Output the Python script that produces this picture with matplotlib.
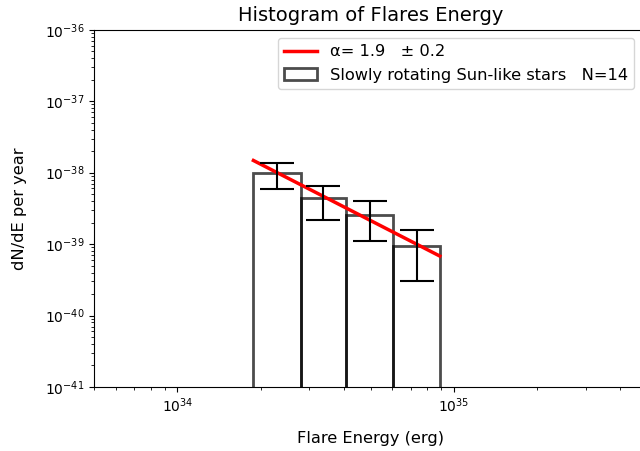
import numpy as np
import matplotlib
matplotlib.use('Agg')
import matplotlib.pyplot as plt

# bin edges (erg) and dN/dE per year in each bin
edges = [1.885e34, 2.79e34, 4.09e34, 6.04e34, 8.9e34]
dnde = [9.8e-39, 4.4e-39, 2.56e-39, 9.4e-40]
dnde_err = [3.85e-39, 2.2e-39, 1.44e-39, 6.4e-40]

# power-law fit, drawn over the binned range
fit_E = [1.885e34, 8.9e34]
fit_dnde = [1.48e-38, 6.8e-40]

edges = np.array(edges)
centers = np.sqrt(edges[:-1]*edges[1:])

fig = plt.figure(figsize=(6.4, 4.51), dpi=100)
ax = fig.add_axes([0.147, 0.142, 0.864, 0.792])

ax.plot(fit_E, fit_dnde, color='red', lw=2.5, label=u'\u03b1= 1.9   \u00b1 0.2')
ax.bar(edges[:-1], dnde, width=np.diff(edges), align='edge', fill=False,
       edgecolor='k', alpha=0.7, lw=2,
       label='Slowly rotating Sun-like stars   N=14')
ax.errorbar(centers, dnde, yerr=dnde_err, fmt='none', ecolor='k',
            elinewidth=1.5, capsize=12, capthick=1.5)

ax.set_xscale('log')
ax.set_yscale('log')
ax.set_xlim(5e33, 5e35)
ax.set_ylim(1e-41, 1e-36)
ax.set_xlabel('Flare Energy (erg)', fontsize=11.7, labelpad=11)
ax.set_ylabel('dN/dE per year', fontsize=11.7, labelpad=13)
ax.set_title('Histogram of Flares Energy', fontsize=14)
ax.legend(loc='upper right', bbox_to_anchor=(0.992, 1.0), fontsize=11.7)

fig.savefig('out.png', dpi=100)
